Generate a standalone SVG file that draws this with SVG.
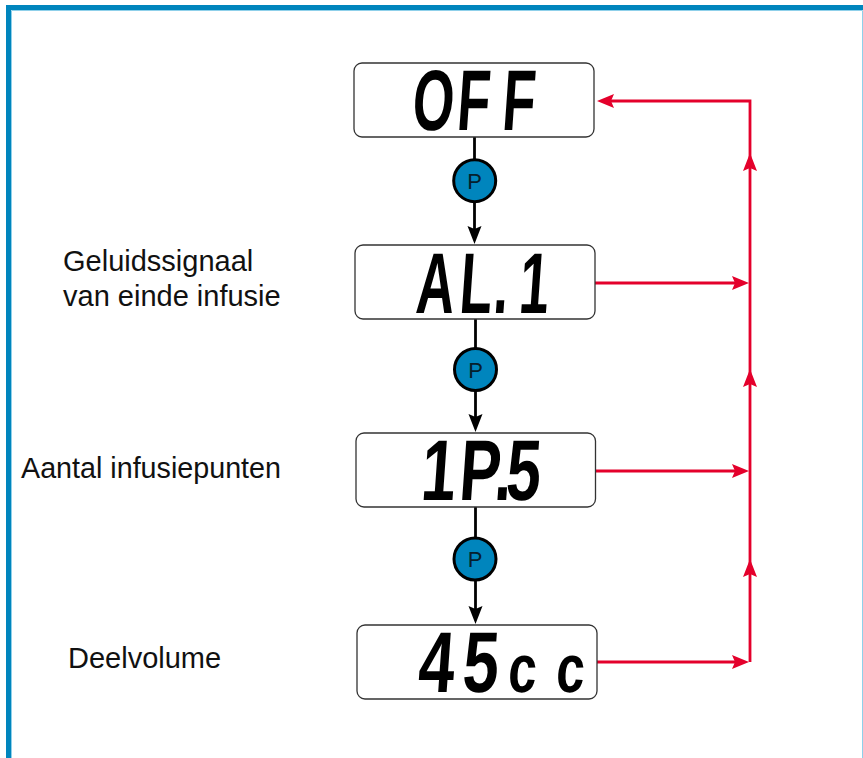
<svg xmlns="http://www.w3.org/2000/svg" width="863" height="758" viewBox="0 0 863 758">
<style>
.box{fill:#fff;stroke:#333;stroke-width:1.3}
.btn{fill:#0085bd;stroke:#000;stroke-width:3}
.p{font:22px "Liberation Sans",Arial,sans-serif;fill:#06202c;text-anchor:middle}
.lbl{font:29px "Liberation Sans",Arial,sans-serif;fill:#111}
.lcd{font:bold 86px "Liberation Sans",Arial,sans-serif;fill:#000}
.k{stroke:#000;stroke-width:2.8;fill:none}
.r{stroke:#e4002b;stroke-width:2.8;fill:none}
.hk{fill:#000}.hr{fill:#e4002b}
</style>
<defs>
<path id="ak" class="hk" d="M0 0L-7 -18L0 -15L7 -18Z"/>
<path id="au" class="hr" d="M0 0L-7 18L0 15L7 18Z"/>
<path id="ar" class="hr" d="M0 0L-17 -7L-14 0L-17 7Z"/>
<path id="al" class="hr" d="M0 0L17 -7L14 0L17 7Z"/>
</defs>
<rect width="863" height="758" fill="#fff"/>
<path id="frame" d="M8.500 758V7.500H863" fill="none" stroke="#0085bd" stroke-width="5"/>
<path d="M11.500 758V10.500H862.500V758" fill="none" stroke="#8fd0ea" stroke-width="1"/>
<g id="connectors">
<path class="k" d="M474.500 137V230"/><use href="#ak" x="474.500" y="244"/>
<path class="k" d="M475.500 319V418"/><use href="#ak" x="475.500" y="432"/>
<path class="k" d="M475.500 507V610"/><use href="#ak" x="475.500" y="624"/>
<path class="r" d="M750 662V101H610"/>
<use href="#al" x="597" y="101"/>
<use href="#au" x="750" y="153"/><use href="#au" x="750" y="369"/><use href="#au" x="750" y="559"/>
<path class="r" d="M595 283H737"/><use href="#ar" x="749" y="283"/>
<path class="r" d="M595 471H737"/><use href="#ar" x="749" y="471"/>
<path class="r" d="M597 662H737"/><use href="#ar" x="749" y="662"/>
</g>
<g id="display-off"><rect class="box" x="354" y="63" width="240" height="74" rx="8"/>
<text class="lcd" transform="translate(0 130) skewX(-4) scale(.62 1)" x="663 735 808" y="0">OFF</text></g>
<g id="display-al1"><rect class="box" x="355" y="245" width="240" height="74" rx="8"/>
<text class="lcd" transform="translate(0 313) skewX(-4) scale(.62 1)" x="669 739 794 835" y="0">AL.1</text></g>
<g id="display-ip5"><rect class="box" x="356" y="433" width="239.500" height="74" rx="8"/>
<text class="lcd" transform="translate(0 500) skewX(-4) scale(.72 1)" x="583 636 685 701" y="0">1P.5</text></g>
<g id="display-45cc"><rect class="box" x="357" y="625" width="240" height="74" rx="8"/>
<text class="lcd" transform="translate(0 692) skewX(-4) scale(.75 1)" x="556 615" y="0">45<tspan font-size="68" x="676 740">cc</tspan></text></g>
<g id="button-1"><circle class="btn" cx="474.700" cy="180.700" r="21"/><text class="p" x="474.700" y="188.500">P</text></g>
<g id="button-2"><circle class="btn" cx="475.500" cy="369.500" r="21"/><text class="p" x="475.500" y="377.500">P</text></g>
<g id="button-3"><circle class="btn" cx="475" cy="559" r="21"/><text class="p" x="475" y="567">P</text></g>
<g id="label-1"><text class="lbl" x="63" y="271">Geluidssignaal</text><text class="lbl" x="63" y="306">van einde infusie</text></g>
<g id="label-2"><text class="lbl" x="21" y="478" textLength="260" lengthAdjust="spacingAndGlyphs">Aantal infusiepunten</text></g>
<g id="label-3"><text class="lbl" x="68" y="668">Deelvolume</text></g>
</svg>
